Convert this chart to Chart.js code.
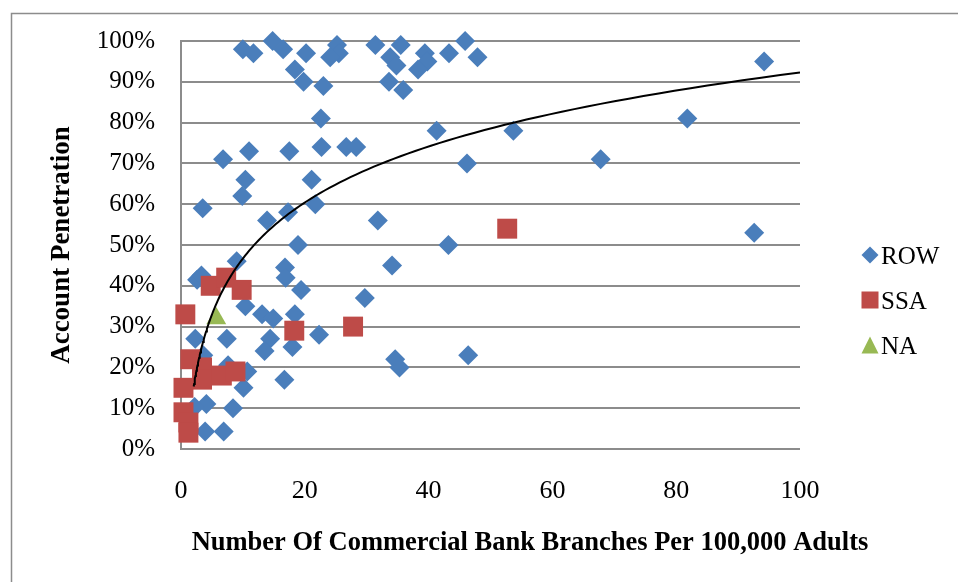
<!DOCTYPE html>
<html>
<head>
<meta charset="utf-8">
<script src="https://cdn.jsdelivr.net/npm/chart.js@4/dist/chart.umd.min.js"></script>
<style>
  html,body{margin:0;padding:0;background:#fff;overflow:hidden;}
  #wrap{position:relative;width:958px;height:582px;}
</style>
</head>
<body>
<div id="wrap"><canvas id="c" width="958" height="582"></canvas></div>
<script>
// ---- data (x: branches per 100,000 adults, y: account penetration %) ----
const rowX = [10,11.7,14.8,16.5,20.2,18.4,19.8,23,25.2,25.5,24.1,31.4,33.8,35.5,34.8,33.6,35.9,39.4,39.8,38.3,43.3,45.9,47.9,
  22.6,41.3,53.7,6.8,11,17.5,22.7,26.7,28.3,46.2,10.4,21.1,9.9,3.5,21.7,13.9,17.3,31.8,18.9,43.2,34.1,9,16.8,16.9,2.6,3.3,
  19.4,29.7,10.4,13.1,14.9,18.4,2.3,7.4,14.4,22.3,13.5,18,34.6,35.3,46.4,16.7,10.7,7.6,10.1,4.1,8.4,3.9,6.9,2.2,3.6,
  67.8,81.8,92.6,94.2];
const rowY = [98,97,100,98,97,93,90,89,99,97,96,99,96,99,94,90,88,97,95,93,97,100,96,
  81,78,78,71,73,73,74,74,74,70,66,66,62,59,60,56,58,56,50,50,45,46,44.5,42,41.5,42.5,
  39,37,35,33,32,33,27,27,27,28,24,25,22,20,23,17,19,20.5,15,11,10,4.3,4.3,10.3,23,
  71,81,53,95];
const ssaX = [0.7,1.5,3.4,3.4,6.6,8.8,0.4,0.4,1.2,1.2,4.8,7.3,9.8,18.3,27.8,52.7];
const ssaY = [33,22,20,17,18,19,15,9,6.5,4,40,42,39,29,30,54];
const naX = [5.7];
const naY = [32];
// logarithmic trendline y = a*ln(x) + b, coefficients
const trendA = 19.8;
const trendB = 1.1;
const trendXStart = 2.05;
const trendXEnd = 100;
const yTickValues = [0,10,20,30,40,50,60,70,80,90,100];
const xTickValues = [0,20,40,60,80,100];
const seriesNames = ['ROW','SSA','NA'];
const xTitle = 'Number Of Commercial Bank Branches Per 100,000 Adults';
const yTitle = 'Account Penetration';

const colors = {ROW:'#4A7EBB', SSA:'#BE4B48', NA:'#98B954'};
const serif = "'Liberation Serif','Times New Roman',serif";

function pts(xs, ys){ return xs.map((x,i)=>({x:x, y:ys[i]})); }
const trendPts = [];
for (let i=0;i<=120;i++){
  const x = trendXStart*Math.pow(trendXEnd/trendXStart, i/120);
  trendPts.push({x:x, y: trendA*Math.log(x)+trendB});
}

const decor = {
  id:'decor',
  beforeDraw(chart){
    const ctx = chart.ctx;
    ctx.save();
    ctx.fillStyle='#fff';
    ctx.fillRect(0,0,chart.width,chart.height);
    ctx.strokeStyle='#8c8c8c';
    ctx.lineWidth=1.5;
    ctx.strokeRect(11.5,13.5,1000,1000);
    ctx.restore();
  },
  afterDraw(chart){
    const ctx = chart.ctx;
    ctx.save();
    ctx.fillStyle='#000';
    ctx.font = "bold 26.5px " + serif;
    ctx.textAlign='center';
    ctx.textBaseline='middle';
    ctx.fillText(xTitle, 530, 543);
    ctx.translate(62, 245);
    ctx.rotate(-Math.PI/2);
    ctx.font = "bold 27px " + serif;
    ctx.fillText(yTitle, 0, 0);
    ctx.restore();

    // legend
    ctx.save();
    ctx.font = "25px " + serif;
    ctx.textAlign='left';
    ctx.textBaseline='alphabetic';
    const lx = 870, ys = [255,300,345];
    ctx.fillStyle=colors.ROW;
    ctx.beginPath();
    ctx.moveTo(lx-8.5,ys[0]); ctx.lineTo(lx,ys[0]-8.5); ctx.lineTo(lx+8.5,ys[0]); ctx.lineTo(lx,ys[0]+8.5); ctx.closePath(); ctx.fill();
    ctx.fillStyle=colors.SSA;
    ctx.fillRect(lx-8.5, ys[1]-8.5, 17, 17);
    ctx.fillStyle=colors.NA;
    ctx.beginPath();
    ctx.moveTo(lx, ys[2]-8.5); ctx.lineTo(lx+8.5, ys[2]+8.5); ctx.lineTo(lx-8.5, ys[2]+8.5); ctx.closePath(); ctx.fill();
    ctx.fillStyle='#000';
    ctx.fillText(seriesNames[0], 881, ys[0]+8.5);
    ctx.fillText(seriesNames[1], 881, ys[1]+9);
    ctx.fillText(seriesNames[2], 881, ys[2]+9);
    ctx.restore();
  }
};

new Chart(document.getElementById('c'), {
  type:'scatter',
  data:{
    datasets:[
      {label:'trend', type:'line', data:trendPts, borderColor:'#000', borderWidth:2, pointRadius:0, showLine:true, fill:false, tension:0, order:0},
      {label:seriesNames[2], data:pts(naX,naY), pointStyle:'triangle', pointRadius:11.5, backgroundColor:colors.NA, borderColor:colors.NA, borderWidth:0, clip:false, order:1},
      {label:seriesNames[1], data:pts(ssaX,ssaY), pointStyle:'rect', pointRadius:14.1, backgroundColor:colors.SSA, borderColor:colors.SSA, borderWidth:0, clip:false, order:2},
      {label:seriesNames[0], data:pts(rowX,rowY), pointStyle:'rectRot', pointRadius:10, backgroundColor:colors.ROW, borderColor:colors.ROW, borderWidth:0, clip:false, order:3}
    ]
  },
  options:{
    responsive:false,
    animation:false,
    events:[],
    layout:{padding:{left:0, top:41, right:158, bottom:0}},
    plugins:{legend:{display:false}, tooltip:{enabled:false}},
    scales:{
      x:{
        type:'linear', min:0, max:100,
        afterBuildTicks: s => { s.ticks = xTickValues.map(v=>({value:v})); },
        ticks:{font:{family:serif, size:26}, color:'#000', padding:27, maxRotation:0},
        grid:{display:false, drawTicks:false},
        border:{display:false},
        afterFit: s => { s.height = 133; }
      },
      y:{
        type:'linear', min:0, max:100,
        afterBuildTicks: s => { s.ticks = yTickValues.map(v=>({value:v})); },
        ticks:{font:{family:serif, size:25}, color:'#000', padding:26, callback: v => v + '%'},
        grid:{color:'#8c8c8c', lineWidth:2, drawTicks:false},
        border:{display:true, color:'#8c8c8c', width:2},
        afterFit: s => { s.width = 181; }
      }
    }
  },
  plugins:[decor]
});
</script>
</body>
</html>
